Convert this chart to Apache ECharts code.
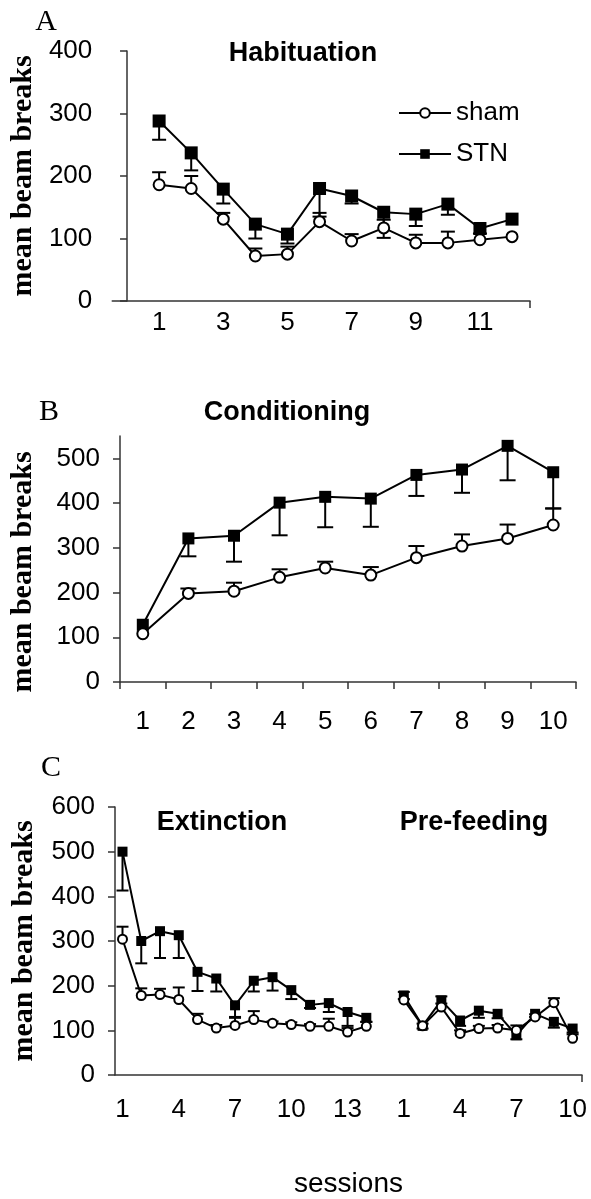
<!DOCTYPE html>
<html>
<head>
<meta charset="utf-8">
<script src="https://cdn.jsdelivr.net/npm/echarts@6/dist/echarts.min.js"></script>
<style>
html,body{margin:0;padding:0;background:#fff;}
#c{width:591px;height:1199px;}
</style>
</head>
<body>
<div id="c"></div>
<script>
// ---------- Panel A: Habituation ----------
const sessionsA = [1,2,3,4,5,6,7,8,9,10,11,12];
const shamA     = [186,180,131,72,75,127,96,117,93,93,98,103];
const shamAUp   = [206,200,141,84,87,141,107,130,106,111,98,103];
const stnA      = [288,237,179,123,107,180,168,142,139,155,116,131];
const stnALow   = [258,209,156,100,92,135,156,101,120,138,108,131];
const ticksAX   = [1,3,5,7,9,11];

// ---------- Panel B: Conditioning ----------
const sessionsB = ['1','2','3','4','5','6','7','8','9','10'];
const shamB     = [108,198,203,234,255,239,278,304,321,351];
const shamBUp   = [108,209,222,252,269,257,304,330,352,388];
const stnB      = [128,321,327,401,414,410,463,475,528,469];
const stnBLow   = [128,281,269,328,346,347,416,423,451,388];

// ---------- Panel C: Extinction + Pre-feeding ----------
const sessionsExt = [1,2,3,4,5,6,7,8,9,10,11,12,13,14];
const shamExt     = [304,178,180,169,124,105,111,124,116,113,109,109,96,109];
const shamExtUp   = [332,194,193,196,137,112,130,143,120,118,114,126,110,119];
const stnExt      = [500,300,322,313,231,216,156,211,219,190,157,161,141,128];
const stnExtLow   = [413,250,262,262,188,187,128,187,189,170,150,141,105,119];
const sessionsPre = [1,2,3,4,5,6,7,8,9,10];
const shamPre     = [168,110,152,93,104,105,100,130,162,82];
const shamPreUp   = [186,115,176,100,110,112,111,136,172,91];
const stnPre      = [178,110,167,122,144,137,89,137,119,104];
const stnPreLow   = [170,104,160,110,128,127,80,130,106,95];
const preOffset   = 15;   // pre-feeding sessions plotted after a one-slot gap
const ticksCX     = [1,4,7,10,13,16,19,22,25];

const yTicksA = [0,100,200,300,400];
const yTicksB = [0,100,200,300,400,500];
const yTicksC = [0,100,200,300,400,500,600];

const SANS = "'Liberation Sans', Arial, sans-serif";
const SERIF = "'Liberation Serif', 'Times New Roman', serif";

const chart = echarts.init(document.getElementById('c'), null, {renderer:'canvas'});

function pairs(xs, ys){ return xs.map((x,i)=>[x, ys[i]]); }
function triples(xs, ys, es){ return xs.map((x,i)=>[x, ys[i], es[i]]); }

function errRender(capHalf){
  return function(params, api){
    const x = api.value(0), v = api.value(1), e = api.value(2);
    if (v === e) return null;
    const p0 = api.coord([x, v]);
    const p1 = api.coord([x, e]);
    return {type:'group', children:[
      {type:'line', shape:{x1:p0[0], y1:p0[1], x2:p1[0], y2:p1[1]}, style:{stroke:'#000', lineWidth:2}},
      {type:'line', shape:{x1:p1[0]-capHalf, y1:p1[1], x2:p1[0]+capHalf, y2:p1[1]}, style:{stroke:'#000', lineWidth:2}}
    ]};
  };
}

const axisLine = {show:true, lineStyle:{color:'#333', width:1.5}};
const tickLabel = {color:'#000', fontSize:26, fontFamily:SANS};

function yAxis(grid, max, ticks, gap, pad){
  return {
    type:'value', gridIndex:grid, min:0, max:max, interval:100,
    name:'mean beam breaks', nameLocation:'middle', nameGap:gap,
    nameTextStyle:{color:'#000', fontSize:30, fontWeight:'bold', fontFamily:SERIF, padding:pad},
    axisLine:axisLine,
    axisTick:{show:true, length:7, lineStyle:{color:'#333', width:1.5}, customValues:ticks},
    axisLabel:Object.assign({margin:20, customValues:ticks}, tickLabel),
    splitLine:{show:false}
  };
}

function lineSeries(name, xi, data, size, filled){
  return {
    type:'line', name:name, xAxisIndex:xi, yAxisIndex:xi, data:data,
    symbol: filled ? 'rect' : 'circle', symbolSize:size,
    lineStyle:{color:'#000', width:2},
    itemStyle: filled ? {color:'#000', borderColor:'#000', borderWidth:0} : {color:'#fff', borderColor:'#000', borderWidth:2},
    z: filled ? 3 : 4, animation:false, connectNulls:false
  };
}
function errSeries(xi, data, capHalf){
  return {type:'custom', name:'err', xAxisIndex:xi, yAxisIndex:xi, data:data,
    renderItem:errRender(capHalf), z:2, animation:false, silent:true};
}

const option = {
  backgroundColor:'#fff',
  animation:false,
  grid:[
    {left:111, top:51, width:419, height:250},
    {left:112, top:436, width:464, height:246},
    {left:115, top:807, width:467, height:270}
  ],
  xAxis:[
    {type:'value', gridIndex:0, min:-0.46, max:12.56,
      axisLine:axisLine,
      axisTick:{show:true, length:7, lineStyle:{color:'#333', width:1.5}, customValues:[12.56]},
      axisLabel:Object.assign({margin:9, customValues:ticksAX}, tickLabel),
      splitLine:{show:false}},
    {type:'category', gridIndex:1, data:sessionsB, boundaryGap:true,
      axisLine:axisLine,
      axisTick:{show:true, length:7, alignWithLabel:false, lineStyle:{color:'#333', width:1.5}},
      axisLabel:Object.assign({margin:27, interval:0}, tickLabel),
      splitLine:{show:false}},
    {type:'value', gridIndex:2, min:0.6, max:25.5,
      name:'sessions', nameLocation:'middle', nameGap:95,
      nameTextStyle:{color:'#000', fontSize:28, fontFamily:SANS},
      axisLine:axisLine,
      axisTick:{show:true, length:7, lineStyle:{color:'#333', width:1.5}, customValues:[25.5]},
      axisLabel:Object.assign({margin:22, customValues:ticksCX,
        formatter:function(v){ return String(v > 14 ? v - preOffset : v); }}, tickLabel),
      splitLine:{show:false}}
  ],
  yAxis:[
    yAxis(0, 400, yTicksA, 74, 0),
    yAxis(1, 550, yTicksB, 82, [0, 26, 0, 0]),
    yAxis(2, 600, yTicksC, 76, 0)
  ],
  legend:{
    data:['sham','STN'], orient:'vertical', left:393, top:95,
    itemWidth:52, itemHeight:12, itemGap:15,
    textStyle:{color:'#000', fontSize:26, fontFamily:SANS, lineHeight:26},
    selectedMode:false
  },
  graphic:[
    {type:'text', x:46, y:22, style:{text:'A', font:'30px '+SERIF, fill:'#000', textAlign:'center', textVerticalAlign:'middle'}},
    {type:'text', x:303, y:54, style:{text:'Habituation', font:'bold 27px '+SANS, fill:'#000', textAlign:'center', textVerticalAlign:'middle'}},
    {type:'text', x:49, y:412, style:{text:'B', font:'30px '+SERIF, fill:'#000', textAlign:'center', textVerticalAlign:'middle'}},
    {type:'text', x:287, y:413, style:{text:'Conditioning', font:'bold 27px '+SANS, fill:'#000', textAlign:'center', textVerticalAlign:'middle'}},
    {type:'text', x:51, y:768, style:{text:'C', font:'30px '+SERIF, fill:'#000', textAlign:'center', textVerticalAlign:'middle'}},
    {type:'text', x:222, y:823, style:{text:'Extinction', font:'bold 27px '+SANS, fill:'#000', textAlign:'center', textVerticalAlign:'middle'}},
    {type:'text', x:474, y:823, style:{text:'Pre-feeding', font:'bold 27px '+SANS, fill:'#000', textAlign:'center', textVerticalAlign:'middle'}}
  ],
  series:[
    // Panel A
    errSeries(0, triples(sessionsA, shamA, shamAUp), 7),
    errSeries(0, triples(sessionsA, stnA, stnALow), 7),
    lineSeries('STN', 0, pairs(sessionsA, stnA), 13, true),
    lineSeries('sham', 0, pairs(sessionsA, shamA), 11, false),
    // Panel B
    errSeries(1, triples(sessionsB.map((s,i)=>i), shamB, shamBUp), 8),
    errSeries(1, triples(sessionsB.map((s,i)=>i), stnB, stnBLow), 8),
    lineSeries('STN', 1, stnB, 12, true),
    lineSeries('sham', 1, shamB, 11, false),
    // Panel C - extinction
    errSeries(2, triples(sessionsExt, shamExt, shamExtUp), 6),
    errSeries(2, triples(sessionsExt, stnExt, stnExtLow), 6),
    lineSeries('STN', 2, pairs(sessionsExt, stnExt), 10, true),
    lineSeries('sham', 2, pairs(sessionsExt, shamExt), 9, false),
    // Panel C - pre-feeding
    errSeries(2, triples(sessionsPre.map(s=>s+preOffset), shamPre, shamPreUp), 6),
    errSeries(2, triples(sessionsPre.map(s=>s+preOffset), stnPre, stnPreLow), 6),
    lineSeries('STN', 2, pairs(sessionsPre.map(s=>s+preOffset), stnPre), 10, true),
    lineSeries('sham', 2, pairs(sessionsPre.map(s=>s+preOffset), shamPre), 9, false)
  ]
};
chart.setOption(option);
</script>
</body>
</html>
